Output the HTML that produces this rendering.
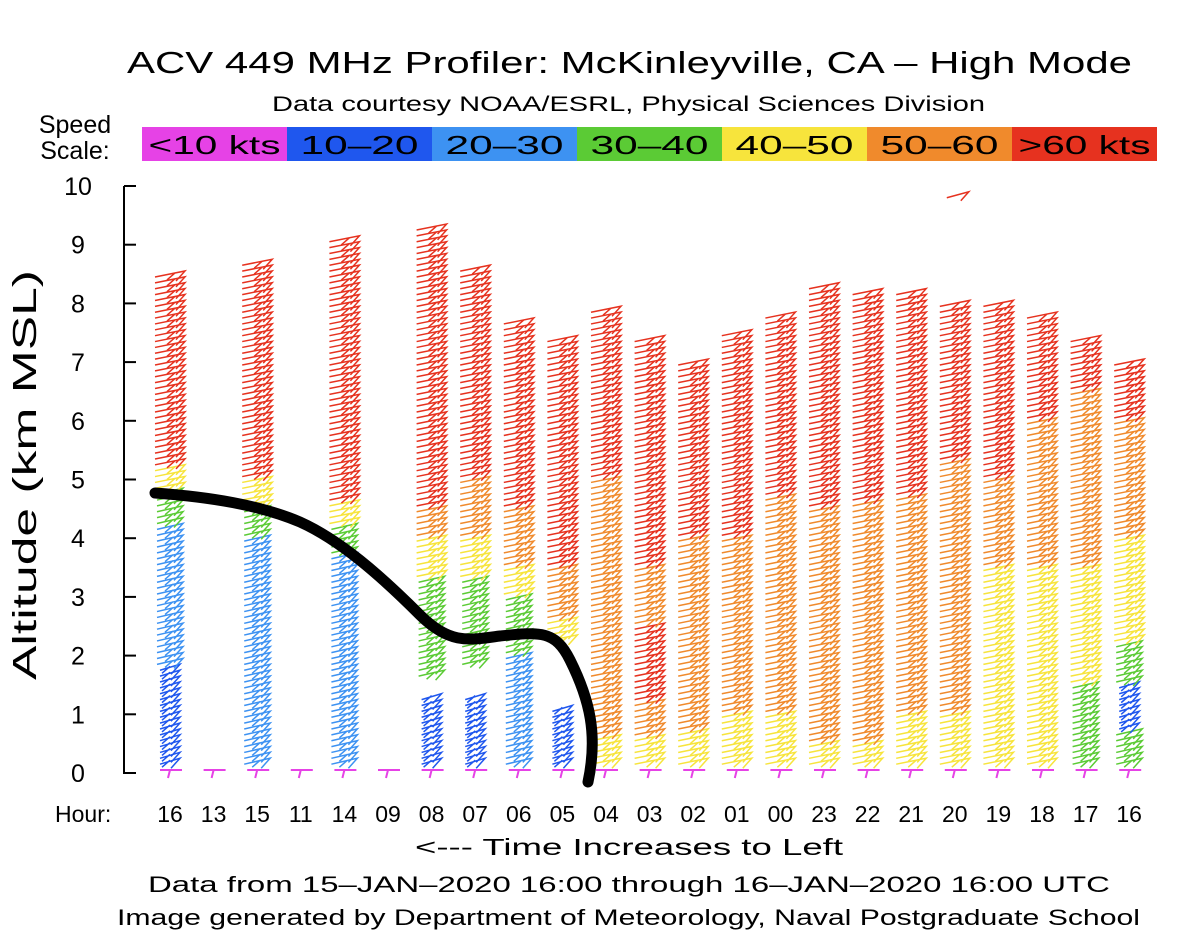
<!DOCTYPE html>
<html><head><meta charset="utf-8"><style>
body{margin:0;background:#fff;}
svg text{font-family:"Liberation Sans",sans-serif;fill:#000;}
</style></head><body>
<svg width="1200" height="944" viewBox="0 0 1200 944">
<text x="127" y="73" font-size="31" textLength="1005" lengthAdjust="spacingAndGlyphs">ACV  449  MHz  Profiler:  McKinleyville,  CA  –  High  Mode</text>
<text x="272" y="111" font-size="21" textLength="713" lengthAdjust="spacingAndGlyphs">Data  courtesy  NOAA/ESRL,  Physical  Sciences  Division</text>
<text x="75" y="133" font-size="25" text-anchor="middle">Speed</text>
<text x="75" y="159" font-size="25" text-anchor="middle">Scale:</text>
<g id="legend"></g>
<g id="axes"></g>
<g id="barbs"></g>
<path d="M155,493 C210,497 260,505 300,522 C340,540 380,575 420,615 C450,645 470,640 500,636 C540,632 555,630 570,660 C590,700 598,735 588,782" fill="none" stroke="#000" stroke-width="11" stroke-linecap="round"/>
<text x="415" y="855" font-size="23" textLength="428" lengthAdjust="spacingAndGlyphs">&lt;---  Time  Increases  to  Left</text>
<text x="148" y="892" font-size="22" textLength="962" lengthAdjust="spacingAndGlyphs">Data  from  15–JAN–2020  16:00  through  16–JAN–2020  16:00  UTC</text>
<text x="117" y="925" font-size="22" textLength="1023" lengthAdjust="spacingAndGlyphs">Image  generated  by  Department  of  Meteorology,  Naval  Postgraduate  School</text>
<text transform="translate(36,680) rotate(-90)" font-size="33" textLength="410" lengthAdjust="spacingAndGlyphs">Altitude  (km  MSL)</text>
</svg>
<script>
const NS="http://www.w3.org/2000/svg";
const colors=["#e642e6","#1f57ee","#3d92f2","#5bcb35","#f7e43c","#f08a2c","#e6321f"];
const legendLabels=["<10  kts","10–20","20–30","30–40","40–50","50–60",">60  kts"];
const hourLabels=["16","13","15","11","14","09","08","07","06","05","04","03","02","01","00","23","22","21","20","19","18","17","16"];
const yTicks=[0,1,2,3,4,5,6,7,8,9,10];
const colIndex=[0,2,4,6,7,8,9,10,11,12,13,14,15,16,17,18,19,20,21,22];
const colTop=[8.5,8.7,9.1,9.3,8.6,7.7,7.4,7.9,7.4,7.0,7.5,7.8,8.3,8.2,8.2,8.0,8.0,7.8,7.4,7.0];
const colBands=[
 [[0.1,1],[1.8,2],[4.2,3],[4.8,4],[5.2,6]],
 [[0.1,2],[4.0,3],[4.5,4],[5.0,6]],
 [[0.1,2],[3.7,3],[4.2,4],[4.6,6]],
 [[0.1,1],[1.3,-1],[1.6,3],[3.3,4],[4.0,5],[4.5,6]],
 [[0.1,1],[1.3,-1],[1.8,3],[3.3,4],[4.0,5],[5.0,6]],
 [[0.1,2],[2.0,3],[3.0,4],[3.5,5],[4.5,6]],
 [[0.1,1],[1.1,-1],[2.2,4],[2.6,5],[3.5,6]],
 [[0.1,4],[0.6,5],[5.0,6]],
 [[0.1,4],[0.6,5],[1.2,6],[2.5,5],[3.5,6]],
 [[0.1,4],[0.7,5],[4.0,6]],
 [[0.1,4],[1.0,5],[4.0,6]],
 [[0.1,4],[1.0,5],[4.7,6]],
 [[0.1,4],[0.5,5],[4.5,6]],
 [[0.1,4],[0.5,5],[4.6,6]],
 [[0.1,4],[1.0,5],[4.7,6]],
 [[0.1,4],[1.0,5],[5.3,6]],
 [[0.1,4],[3.5,5],[5.0,6]],
 [[0.1,4],[3.5,5],[6.0,6]],
 [[0.1,3],[1.5,4],[3.5,5],[6.5,6]],
 [[0.1,3],[0.7,1],[1.5,3],[2.2,4],[4.0,5],[6.0,6]]
];
const x0=170,dx=43.6;
function xPos(i){return x0+i*dx;}
function yPos(a){return 773-a*58.7;}
function el(tag,attrs,parent){const e=document.createElementNS(NS,tag);for(const k in attrs)e.setAttribute(k,attrs[k]);parent.appendChild(e);return e;}
const lg=document.getElementById('legend');
legendLabels.forEach((l,i)=>{
 const g=el('g',{},lg);
 
 
 el('rect',{x:142+i*145,y:127,width:145,height:34,fill:colors[i]},g);
 const tl=l.length>5?132:118;
 const t=el('text',{x:142+i*145+72.5-tl/2,y:154,'font-size':26,textLength:tl,lengthAdjust:'spacingAndGlyphs'},g);t.textContent=l;
});
const ax=document.getElementById('axes');
el('line',{x1:124,y1:186,x2:124,y2:774,stroke:'#000','stroke-width':2},ax);
yTicks.forEach(v=>{
 const y=yPos(v);
 const tk=el('line',{x1:124,y1:y,x2:136,y2:y,stroke:'#000','stroke-width':2},ax);
 
 
 const t=el('text',{x:78,y:y+9,'font-size':25,'text-anchor':'middle'},ax);
 
 
 t.textContent=v;
});
const hl=el('text',{x:55,y:822,'font-size':23},ax);hl.textContent="Hour:";


hourLabels.forEach((h,i)=>{
 const t=el('text',{x:xPos(i),y:822,'font-size':23,'text-anchor':'middle'},ax);
 
 
 t.textContent=h;
 const m=el('path',{d:`M${xPos(i)-10},${770} L${xPos(i)+12},${770} M${xPos(i)},${770} L${xPos(i)-2},${778}`,stroke:colors[0],'stroke-width':2,fill:'none'},ax);
 
 
});
const bg=document.getElementById('barbs');
colIndex.forEach((ci,k)=>{
 const g=el('g',{},bg);
 
 
 const x=xPos(ci);const bands=colBands[k];
 for(let a=0.15;a<=colTop[k];a+=0.1){
  let cat=-1;for(const b of bands){if(a>=b[0])cat=b[1];}
  if(cat<0)continue;
  const y=yPos(a);
  const w=cat>=4?15:(cat>=2?13:10);
  const d=`M${x-w},${y} L${x+w},${y-6} L${x+w-9},${y+4} M${x+w-10},${y-4} L${x+w-18},${y+3}`;
  el('path',{d:d,stroke:colors[cat],'stroke-width':1.5,fill:'none'},g);
 }
});
const lone=el('path',{d:`M${xPos(18)-8},${yPos(9.8)} L${xPos(18)+14},${yPos(9.8)-6} L${xPos(18)+6},${yPos(9.8)+3}`,stroke:colors[6],'stroke-width':1.5,fill:'none'},bg);


</script>
</body></html>
